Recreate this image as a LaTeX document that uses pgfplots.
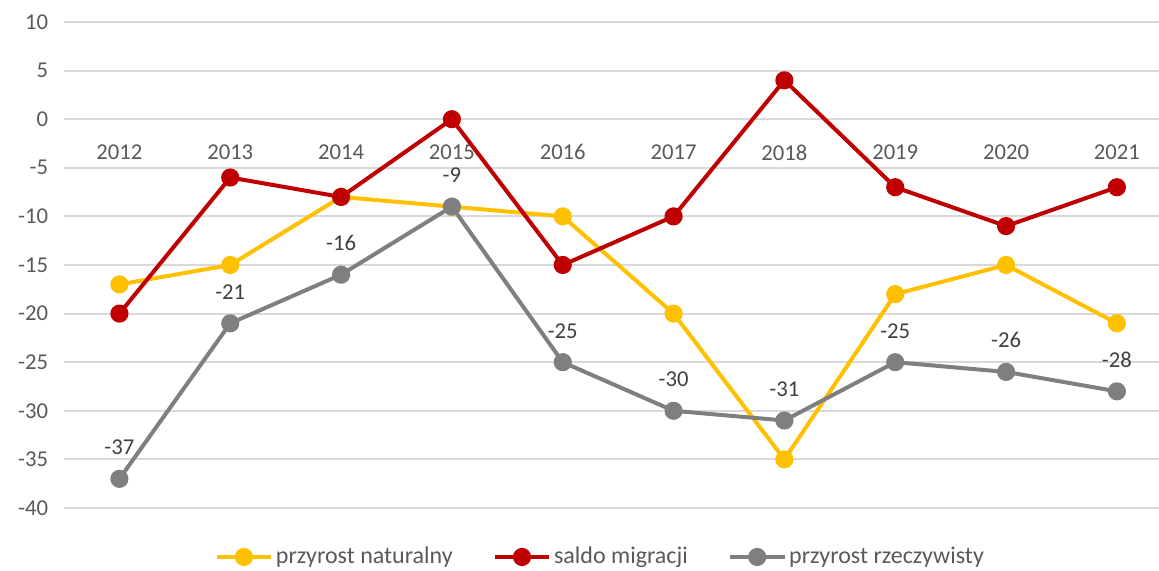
\documentclass[border=0pt]{standalone}
\usepackage{fontspec}
\setmainfont{Carlito}
\usepackage{pgfplots}
\pgfplotsset{compat=1.18}
\usetikzlibrary{calc}
\definecolor{natyellow}{HTML}{FFC000}
\definecolor{migred}{HTML}{C00000}
\definecolor{realgray}{HTML}{7F7F7F}
\definecolor{gridgray}{HTML}{D9D9D9}
\definecolor{labgray}{HTML}{595959}
\definecolor{datgray}{HTML}{404040}

\begin{document}
\fontsize{17pt}{20pt}\selectfont
\begin{tikzpicture}
  \begin{axis}[
    name=ax,
    scale only axis, width=821.25pt, height=364.5pt,
    xmin=-0.5, xmax=9.38, ymin=-40, ymax=10,
    ytick={-40,-35,...,10},
    xtick={0,...,9},
    xticklabels={2012,2013,2014,2015,2016,2017,2018,2019,2020,2021},
    axis line style={draw=none}, major tick length=0pt,
    ymajorgrids, grid style={gridgray, line width=1.5pt},
    /pgf/number format/assume math mode=true,
    ticklabel style={font=\fontsize{17pt}{20pt}\selectfont, text=labgray},
    xticklabel style={inner sep=0pt, anchor=north},
    xticklabel shift=-274pt,
    yticklabel style={inner sep=0pt, anchor=east},
    yticklabel shift=10.5pt,
    line width=3pt,
    every axis plot/.append style={mark=*, mark size=5.3pt, line join=round},
    legend columns=-1,
    legend style={at={(rel axis cs:0.49,-0.1008)}, anchor=center, draw=none,
      fill=none, font=\fontsize{18pt}{21pt}\selectfont, text=labgray,
      /tikz/every even column/.append style={column sep=28pt},
      nodes={inner sep=2pt}},
    legend image code/.code={
      \draw[mark repeat=2, mark phase=2, #1]
        plot coordinates {(0pt,0pt) (20.5pt,0pt) (41pt,0pt)};},
  ]
    \addplot[natyellow, mark options={fill=natyellow}] coordinates {
      (0,-17) (1,-15) (2,-8) (3,-9) (4,-10) (5,-20) (6,-35) (7,-18) (8,-15) (9,-21)};
    \addlegendentry{przyrost naturalny}
    \addplot[migred, mark options={fill=migred}] coordinates {
      (0,-20) (1,-6) (2,-8) (3,0) (4,-15) (5,-10) (6,4) (7,-7) (8,-11) (9,-7)};
    \addlegendentry{saldo migracji}
    \addplot[realgray, mark options={fill=realgray},
      point meta=explicit symbolic, nodes near coords,
      every node near coord/.style={anchor=base, yshift=18pt, text=datgray,
        font=\fontsize{17pt}{20pt}\selectfont}] coordinates {
      (0,-37) [-37] (1,-21) [-21] (2,-16) [-16] (3,-9) [-9] (4,-25) [-25]
      (5,-30) [-30] (6,-31) [-31] (7,-25) [-25] (8,-26) [-26] (9,-28) [-28]};
    \addlegendentry{przyrost rzeczywisty}
  \end{axis}
  \pgfresetboundingbox
  \path[use as bounding box] ($(ax.south west)+(-48pt,-47.25pt)$)
    rectangle ($(ax.north east)+(0pt,16.5pt)$);
\end{tikzpicture}
\end{document}
